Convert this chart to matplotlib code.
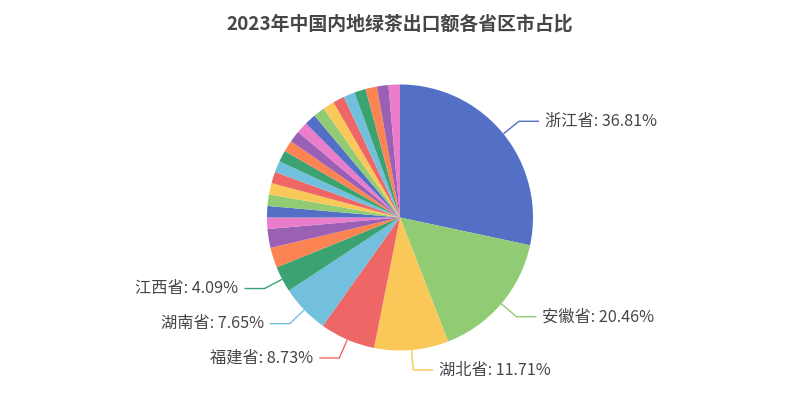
import numpy as np
import matplotlib
matplotlib.use('Agg')
import matplotlib.pyplot as plt

plt.rcParams['font.family'] = ['Noto Sans CJK SC', 'DejaVu Sans']

title = "2023年中国内地绿茶出口额各省区市占比"

provinces = ["浙江省", "安徽省", "湖北省", "福建省", "湖南省", "江西省",
             "云南省", "贵州省", "四川省", "广东省", "广西壮族自治区", "河南省",
             "陕西省", "重庆市", "江苏省", "上海市", "山东省", "北京市",
             "天津市", "海南省", "甘肃省", "河北省", "辽宁省", "黑龙江省",
             "吉林省", "山西省", "内蒙古自治区"]

shares = [36.81, 20.46, 11.71, 8.73, 7.65, 4.09,
          3.17, 2.96, 1.05, 0.72, 0.55, 0.45,
          0.37, 0.30, 0.24, 0.19, 0.15, 0.12,
          0.09, 0.07, 0.05, 0.03, 0.02, 0.01,
          0.005, 0.003, 0.002]

n_labeled = 6

palette = ['#5470c6', '#91cc75', '#fac858', '#ee6666', '#73c0de',
           '#3ba272', '#fc8452', '#9a60b4', '#ea7ccc']

# ECharts-like minAngle layout
min_angle = 5.0
total = sum(shares)
natural = [v / total * 360 for v in shares]
is_small = [a < min_angle for a in natural]
rest = 360 - min_angle * sum(is_small)
large_sum = sum(v for v, s in zip(shares, is_small) if not s)
disp = [min_angle if s else v * rest / large_sum for v, s in zip(shares, is_small)]

W, H = 800, 398
fig = plt.figure(figsize=(8, 3.98), dpi=100)
ax = fig.add_axes([0, 0, 1, 1])
cx, cy, r = 400, H - 217.5, 133
colors = [palette[i % len(palette)] for i in range(len(shares))]
wedges, _ = ax.pie(disp, colors=colors, startangle=90, counterclock=False,
                   center=(cx, cy), radius=r, wedgeprops=dict(linewidth=0))
ax.set_xlim(0, W)
ax.set_ylim(0, H)
ax.set_aspect('equal')
ax.axis('off')

for i in range(n_labeled):
    w = wedges[i]
    mid = np.deg2rad((w.theta1 + w.theta2) / 2)
    c, s = np.cos(mid), np.sin(mid)
    x0, y0 = cx + r * c, cy + r * s
    x1, y1 = cx + (r + 20) * c, cy + (r + 20) * s
    side = 1 if c >= 0 else -1
    x2 = x1 + side * 20
    ax.plot([x0, x1, x2], [y0, y1, y1], color=colors[i], lw=1,
            solid_capstyle='butt', solid_joinstyle='miter')
    pct = shares[i] / total * 100
    ax.text(x2 + side * 6, y1, f"{provinces[i]}: {pct:.2f}%",
            ha='left' if side > 0 else 'right', va='center',
            fontsize=11.7, color='#464646')

fig.text(0.5, 1 - 24 / H, title, ha='center', va='center',
         fontsize=13.6, fontweight='bold', color='#464646')

fig.savefig('out.png', dpi=100)
